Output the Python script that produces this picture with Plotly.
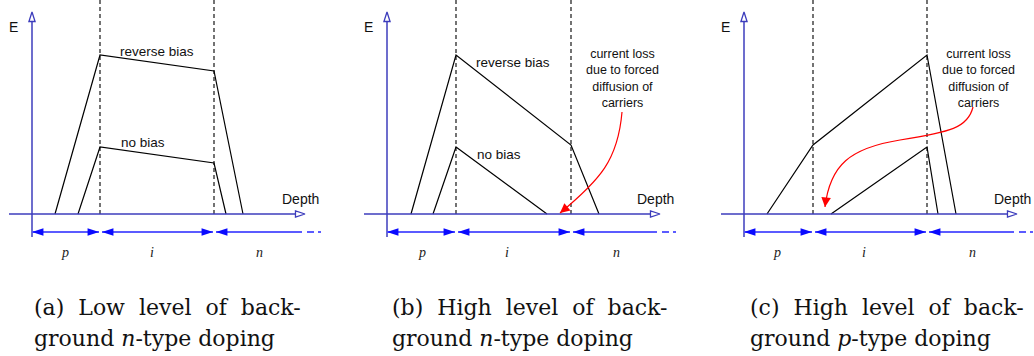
import math
import plotly.graph_objects as go

# ---------------- data (depth units, field units) ----------------
# Panel (a): low level of background n-type doping
a_bounds = [6.8, 18.2]
a_rev_depth = [2.3, 6.8, 18.2, 21.1]
a_rev_E = [0, 15.9, 14.3, 0]
a_nob_depth = [4.6, 6.8, 18.2, 19.4]
a_nob_E = [0, 6.7, 5.1, 0]
a_region_x = [3.3, 12.0, 22.7]

# Panel (b): high level of background n-type doping
b_bounds = [6.9, 18.4]
b_rev_depth = [2.4, 6.9, 18.4, 21.2]
b_rev_E = [0, 15.9, 6.9, 0]
b_nob_depth = [4.6, 6.9, 16.0]
b_nob_E = [0, 6.7, 0]
b_region_x = [3.5, 12.0, 22.9]
b_curve_x = [23.5, 23.1, 21.3, 17.3]
b_curve_E = [10.2, 5.4, 3.4, 0.1]

# Panel (c): high level of background p-type doping
c_bounds = [6.9, 18.3]
c_up_depth = [2.3, 6.9, 18.3, 21.2]
c_up_E = [0, 6.9, 15.9, 0]
c_lo_depth = [8.7, 18.3, 19.4]
c_lo_E = [0, 6.7, 0]
c_region_x = [3.3, 12.0, 22.8]
c_curve_x = [22.9, 22.4, 20.6, 15.6, 10.6, 8.6, 8.1]
c_curve_E = [10.7, 8.6, 8.2, 7.4, 6.6, 4.9, 0.7]

region_labels = ["p", "i", "n"]
note_lines = ["current loss", "due to forced", "diffusion of", "carriers"]
captions = [
    ["(a)\u00a0 Low\u00a0 level\u00a0 of\u00a0 back-", "ground <i>n</i>-type doping"],
    ["(b)\u00a0 High\u00a0 level\u00a0 of\u00a0 back-", "ground <i>n</i>-type doping"],
    ["(c)\u00a0 High\u00a0 level\u00a0 of\u00a0 back-", "ground <i>p</i>-type doping"],
]

# ---------------- styling ----------------
W, H = 1034, 356
SANS = "Liberation Sans, Arial, sans-serif"
SERIF = "Liberation Serif, Times New Roman, serif"
CAP_SERIF = "DejaVu Serif, serif"
AXIS_C = "#3c3cbc"
BAR_C = "#5b5bff"
HEAD_C = "#0a0aff"
RED = "#ff0000"

x_ranges = [[-3.2, 31.3], [-4.2, 30.3], [-5.4, 29.0]]
domains = [[0, 345 / W], [345 / W, 690 / W], [690 / W, 1.0]]
y_range = [-14.2, 21.4]
caption_x = [32, 390, 748]

fig = go.Figure()


def line(xa, x, y, color="black", width=1.2, dash=None, mode="lines", **kw):
    fig.add_trace(go.Scatter(
        x=x, y=y, xaxis=xa, yaxis="y", mode=mode, hoverinfo="skip",
        showlegend=False, line=dict(color=color, width=width, dash=dash), **kw))


def head(xa, x, y, angle, color, size, fill=None, lw=0):
    fig.add_trace(go.Scatter(
        x=[x], y=[y], xaxis=xa, yaxis="y", mode="markers", hoverinfo="skip",
        showlegend=False,
        marker=dict(symbol="arrow", angle=angle, size=size,
                    color=fill if fill else color,
                    line=dict(color=color, width=lw))))


def text(xa, x, y, s, size=13, font=SANS, color="#111111"):
    fig.add_annotation(x=x, y=y, xref=xa, yref="y", text=s, showarrow=False,
                       font=dict(family=font, size=size, color=color),
                       xanchor="center", yanchor="middle", borderpad=0)


panels = [
    dict(bounds=a_bounds, curves=[(a_rev_depth, a_rev_E), (a_nob_depth, a_nob_E)],
         region_x=a_region_x,
         labels=[("reverse bias", 12.5, 16.3), ("no bias", 11.1, 7.2)],
         curve=None),
    dict(bounds=b_bounds, curves=[(b_rev_depth, b_rev_E), (b_nob_depth, b_nob_E)],
         region_x=b_region_x,
         labels=[("reverse bias", 12.6, 15.2), ("no bias", 11.2, 6.0)],
         curve=(b_curve_x, b_curve_E), note_x=23.5),
    dict(bounds=c_bounds, curves=[(c_up_depth, c_up_E), (c_lo_depth, c_lo_E)],
         region_x=c_region_x, labels=[],
         curve=(c_curve_x, c_curve_E), note_x=23.4),
]

for k, p in enumerate(panels):
    xa = "x" if k == 0 else f"x{k + 1}"
    b1, b2 = p["bounds"]

    # dashed region boundaries
    for b in p["bounds"]:
        line(xa, [b, b], [0, y_range[1]], width=1.1, dash="4px,3px")

    # field profiles
    for dx, dy in p["curves"]:
        line(xa, dx, dy, width=1.2)

    # axes (blue, hollow arrowheads)
    line(xa, [0, 0], [-2.3, 19.4], color=AXIS_C, width=1.5)
    head(xa, 0, 20.2, 0, AXIS_C, 10, fill="white", lw=1.3)
    line(xa, [-2.3, 26.5], [0, 0], color=AXIS_C, width=1.5)
    head(xa, 27.3, 0, 90, AXIS_C, 10, fill="white", lw=1.3)
    text(xa, -1.9, 18.7, "E", size=14)
    text(xa, 26.8, 1.5, "Depth", size=14)

    # region extent arrows
    yb = -1.8
    line(xa, [0, b1 - 0.1], [yb, yb], color=BAR_C, width=2.2)
    line(xa, [b1 + 0.2, b2 - 0.1], [yb, yb], color=BAR_C, width=2.2)
    line(xa, [b2 + 0.2, 27.0], [yb, yb], color=BAR_C, width=2.2)
    line(xa, [27.5, 29.2], [yb, yb], color=BAR_C, width=2.2, dash="7px,4px,3px")
    head(xa, 0, yb, 270, HEAD_C, 12)
    head(xa, b1 - 0.1, yb, 90, HEAD_C, 12)
    head(xa, b1 + 0.2, yb, 270, HEAD_C, 12)
    head(xa, b2 - 0.1, yb, 90, HEAD_C, 12)
    head(xa, b2 + 0.2, yb, 270, HEAD_C, 12)

    for lab, rx in zip(region_labels, p["region_x"]):
        text(xa, rx, -3.8, f"<i>{lab}</i>", size=14, font=SERIF, color="#222222")

    for s, lx, ly in p["labels"]:
        text(xa, lx, ly, s, size=13.5)

    if p["curve"] is not None:
        cx, cy = p["curve"]
        path = f"M{cx[0]},{cy[0]}"
        for i in range(1, len(cx), 3):
            path += (f" C{cx[i]},{cy[i]} {cx[i + 1]},{cy[i + 1]} "
                     f"{cx[i + 2]},{cy[i + 2]}")
        fig.add_shape(type="path", path=path, xref=xa, yref="y",
                      line=dict(color=RED, width=1.2))
        dx_, dy_ = cx[-2] - cx[-1], cy[-2] - cy[-1]
        n = math.hypot(dx_, dy_)
        fig.add_annotation(x=cx[-1], y=cy[-1], ax=cx[-1] + dx_ / n * 1.0,
                           ay=cy[-1] + dy_ / n * 1.0, xref=xa, yref="y",
                           axref=xa, ayref="y", text="", showarrow=True,
                           arrowhead=2, arrowsize=1.6, arrowwidth=1.2,
                           arrowcolor=RED, standoff=0)
        text(xa, p["note_x"], 13.6, "<br>".join(note_lines), size=12.5)

    # captions
    for j, s in enumerate(captions[k]):
        fig.add_annotation(x=caption_x[k] / W, y=1 - (307 + 31 * j) / H,
                           xref="paper", yref="paper", text=s, showarrow=False,
                           xanchor="left", yanchor="middle",
                           font=dict(family=CAP_SERIF, size=22, color="#111111"))

layout_axes = {}
for k in range(3):
    name = "xaxis" if k == 0 else f"xaxis{k + 1}"
    layout_axes[name] = dict(domain=domains[k], range=x_ranges[k], visible=False,
                             anchor="y", fixedrange=True)
layout_axes["yaxis"] = dict(domain=[0, 1], range=y_range, visible=False,
                            anchor="x", fixedrange=True)

fig.update_layout(width=W, height=H, margin=dict(l=0, r=0, t=0, b=0),
                  paper_bgcolor="white", plot_bgcolor="white",
                  showlegend=False, **layout_axes)

fig.write_html("out.html")
